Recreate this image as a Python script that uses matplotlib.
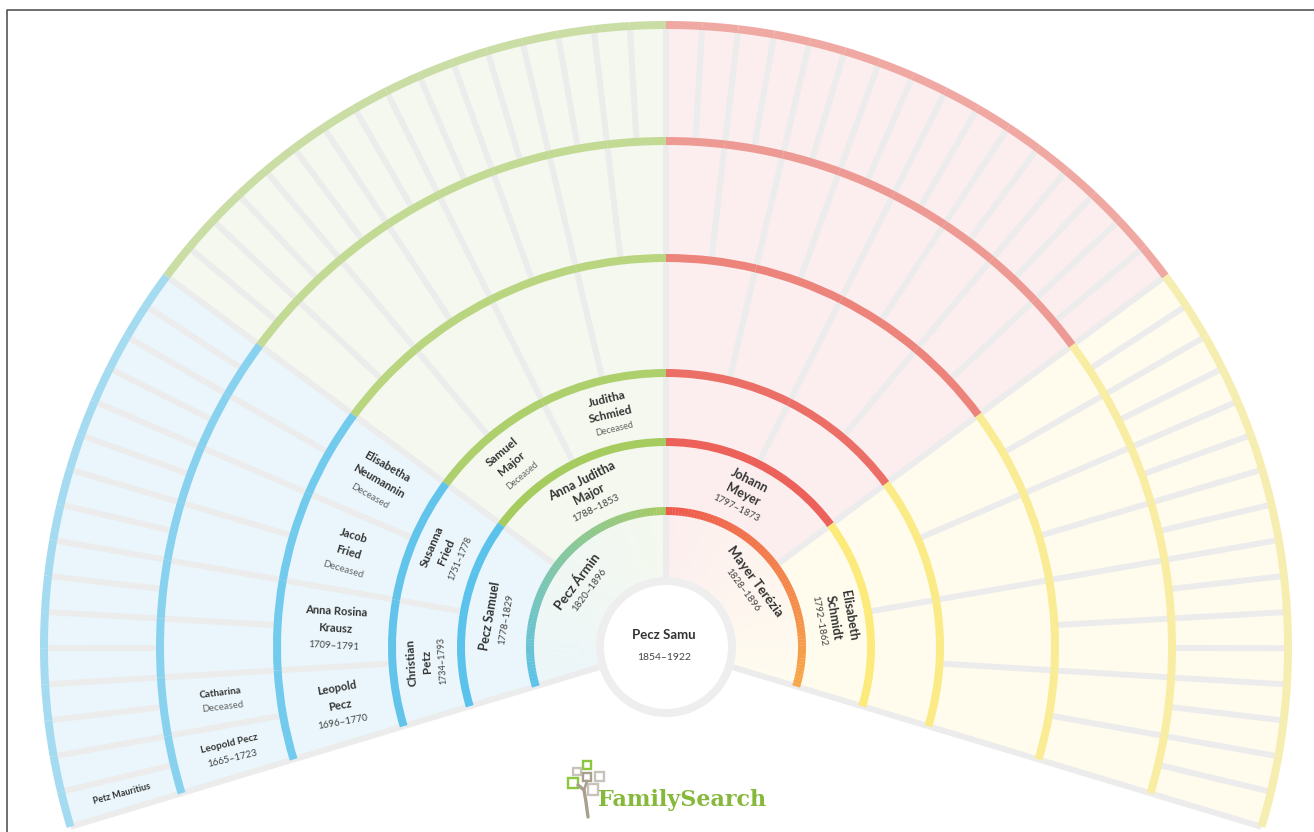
import numpy as np
import matplotlib.pyplot as plt
from matplotlib.patches import Wedge, Circle, Rectangle
from matplotlib.colors import to_rgb

plt.rcParams['font.family'] = ['Lato', 'DejaVu Sans']

# people per generation, listed from the left edge of the fan going clockwise
root_name = 'Pecz Samu'
root_years = '1854–1922'
names_1 = ['Pecz Ármin', 'Mayer Terézia']
years_1 = ['1820–1896', '1828–1896']
names_2 = ['Pecz Samuel', 'Anna Juditha\nMajor', 'Johann\nMeyer', 'Elisabeth\nSchmidt']
years_2 = ['1778–1829', '1788–1853', '1797–1873', '1792–1862']
names_3 = ['Christian\nPetz', 'Susanna\nFried', 'Samuel\nMajor', 'Juditha\nSchmied']
years_3 = ['1734–1793', '1751–1778', 'Deceased', 'Deceased']
names_4 = ['Leopold\nPecz', 'Anna Rosina\nKrausz', 'Jacob\nFried', 'Elisabetha\nNeumannin']
years_4 = ['1696–1770', '1709–1791', 'Deceased', 'Deceased']
names_5 = ['Leopold Pecz', 'Catharina']
years_5 = ['1665–1723', 'Deceased']
names_6 = ['Petz Mauritius']
years_6 = ['']

all_names = [names_1, names_2, names_3, names_4, names_5, names_6]
all_years = [years_1, years_2, years_3, years_4, years_5, years_6]

# layout (pixel units, y up)
W, H = 1314, 832
cx, cy = 666, H - 647
ring_r = [70, 136, 205, 274, 389, 506, 622]
a_left, a_right = 196.8, -16.8
span = a_left - a_right

quad_bg = ['#EAF6FB', '#F4F8EE', '#FCEEEE', '#FFFCEE']
band_cols = {
    0: ['#5BC2EC', '#62C4EB', '#72CAED', '#88D2EF', '#A5DBF1'],
    1: ['#A6CB5F', '#ADD06D', '#B9D57F', '#C3DA95', '#CADDA5'],
    2: ['#EC625A', '#EC6F67', '#EC847C', '#EE9A94', '#F0A8A3'],
    3: ['#FCEA7A', '#FAEB86', '#F9EC95', '#F8EDA2', '#F6EEB0'],
}
line_col = '#ECECEC'
name_size = [9.5, 9.5, 9, 8.5, 8, 7, 6.5]
year_size = [7.5, 7, 7, 6.5, 7, 7, 6.5]
spacing = [0, 14.5, 15.5, 15.5, 17.5, 14.5, 14]

fig = plt.figure(figsize=(W / 100, H / 100), dpi=100)
ax = fig.add_axes([0, 0, 1, 1])
ax.set_xlim(0, W)
ax.set_ylim(0, H)
ax.axis('off')


def mix(c1, c2, t):
    a, b = np.array(to_rgb(c1)), np.array(to_rgb(c2))
    return tuple(a + (b - a) * t)


# quadrant backgrounds for generations 2+
for q in range(4):
    t2 = a_left - q * span / 4
    t1 = t2 - span / 4
    ax.add_patch(Wedge((cx, cy), ring_r[6], t1, t2, width=ring_r[6] - ring_r[1],
                       facecolor=quad_bg[q], edgecolor='none', zorder=1))

# generation 1: gradients
nseg = 80
for side in range(2):
    if side == 0:
        angs = np.linspace(90, a_left, nseg + 1)
        bg = ('#F4F8EE', '#ECF6F8')
        bd = ('#A7CB62', '#5BC2EA')
    else:
        angs = np.linspace(90, a_right, nseg + 1)
        bg = ('#FCEEEE', '#FFFBEE')
        bd = ('#EE574D', '#F7A94A')
    for i in range(nseg):
        t = (i + 0.5) / nseg
        lo, hi = sorted([angs[i], angs[i + 1]])
        ax.add_patch(Wedge((cx, cy), ring_r[1], lo - 0.05, hi + 0.05,
                           width=ring_r[1] - ring_r[0], facecolor=mix(*bg, t),
                           edgecolor='none', zorder=1))
        ax.add_patch(Wedge((cx, cy), ring_r[1] + 4, lo - 0.05, hi + 0.05, width=8,
                           facecolor=mix(*bd, t), edgecolor='none', zorder=4))

# separators between cells
for n in range(1, 7):
    for k in range(2 ** n + 1):
        th = np.deg2rad(a_left - k * span / 2 ** n)
        r0, r1 = ring_r[n - 1], ring_r[n]
        ax.plot([cx + r0 * np.cos(th), cx + r1 * np.cos(th)],
                [cy + r0 * np.sin(th), cy + r1 * np.sin(th)],
                color=line_col, lw=4.3, solid_capstyle='butt', zorder=2)

# coloured arcs at the outer edge of each ring
for n in range(2, 7):
    cells = 2 ** n
    for k in range(cells):
        q = k * 4 // cells
        t2 = a_left - k * span / cells
        t1 = t2 - span / cells
        ax.add_patch(Wedge((cx, cy), ring_r[n] + 4, t1, t2, width=8,
                           facecolor=band_cols[q][n - 2], edgecolor='none', zorder=4))

# centre circle
ax.add_patch(Circle((cx, cy), 66, facecolor='white', edgecolor='#EEEEEE', lw=5.8, zorder=5))
ax.text(cx - 2, cy + 12, root_name, ha='center', va='center', fontsize=name_size[0],
        fontweight='bold', color='#333333', zorder=6)
ax.text(cx - 2, cy - 11, root_years, ha='center', va='center', fontsize=year_size[0],
        color='#444444', zorder=6)


def put_block(x, y, rot, lines, gap):
    rad = np.deg2rad(rot)
    dx, dy = np.sin(rad), -np.cos(rad)
    n = len(lines)
    for i, (s, size, weight, color) in enumerate(lines):
        off = (i - (n - 1) / 2) * gap
        ax.text(x + off * dx, y + off * dy, s, rotation=rot, rotation_mode='anchor',
                ha='center', va='center', fontsize=size, fontweight=weight,
                color=color, zorder=6)


for g in range(1, 7):
    cells = 2 ** g
    rmid = (ring_r[g - 1] + ring_r[g]) / 2
    for k, (nm, yr) in enumerate(zip(all_names[g - 1], all_years[g - 1])):
        th = a_left - (k + 0.5) * span / cells
        if g <= 3:
            rot = th - 90
        else:
            rot = th - 180 if th > 90 else th
        lines = [(part, name_size[g], 'bold', '#333333') for part in nm.split('\n')]
        if yr == 'Deceased':
            lines.append((yr, year_size[g], 'normal', '#666666'))
        elif yr:
            lines.append((yr, year_size[g], 'normal', '#444444'))
        x = cx + rmid * np.cos(np.deg2rad(th))
        y = cy + rmid * np.sin(np.deg2rad(th))
        put_block(x, y, rot, lines, spacing[g])

# FamilySearch logo
logo_boxes = [((583, 63), 8, 8, '#8DC63F'), ((573, 57), 7.5, 7.5, '#C8C3BA'),
              ((583, 51), 8, 8, '#A89F8C'), ((595, 51), 8.5, 9, '#C8C3BA'),
              ((568, 44), 10, 10, '#8DC63F'), ((588, 37), 10, 11, '#C8C3BA')]
for (xy, w, h, c) in logo_boxes:
    ax.add_patch(Rectangle(xy, w, h, fill=False, edgecolor=c, lw=1.7, zorder=6))
ax.plot([588, 586, 584, 578], [15, 30, 42, 47], color='#A89F8C', lw=2.4,
        solid_capstyle='round', zorder=6)
ax.plot([584, 587], [42, 51], color='#A89F8C', lw=1.8, zorder=6)
ax.text(598, 26, 'FamilySearch', ha='left', va='baseline', fontsize=16,
        fontweight='bold', family='DejaVu Serif', color='#86B83C', zorder=6)

# frame
ax.plot([7, 7, W], [0, H - 10, H - 10], color='#555555', lw=1.2, zorder=7)

fig.savefig('out.png', dpi=100)
